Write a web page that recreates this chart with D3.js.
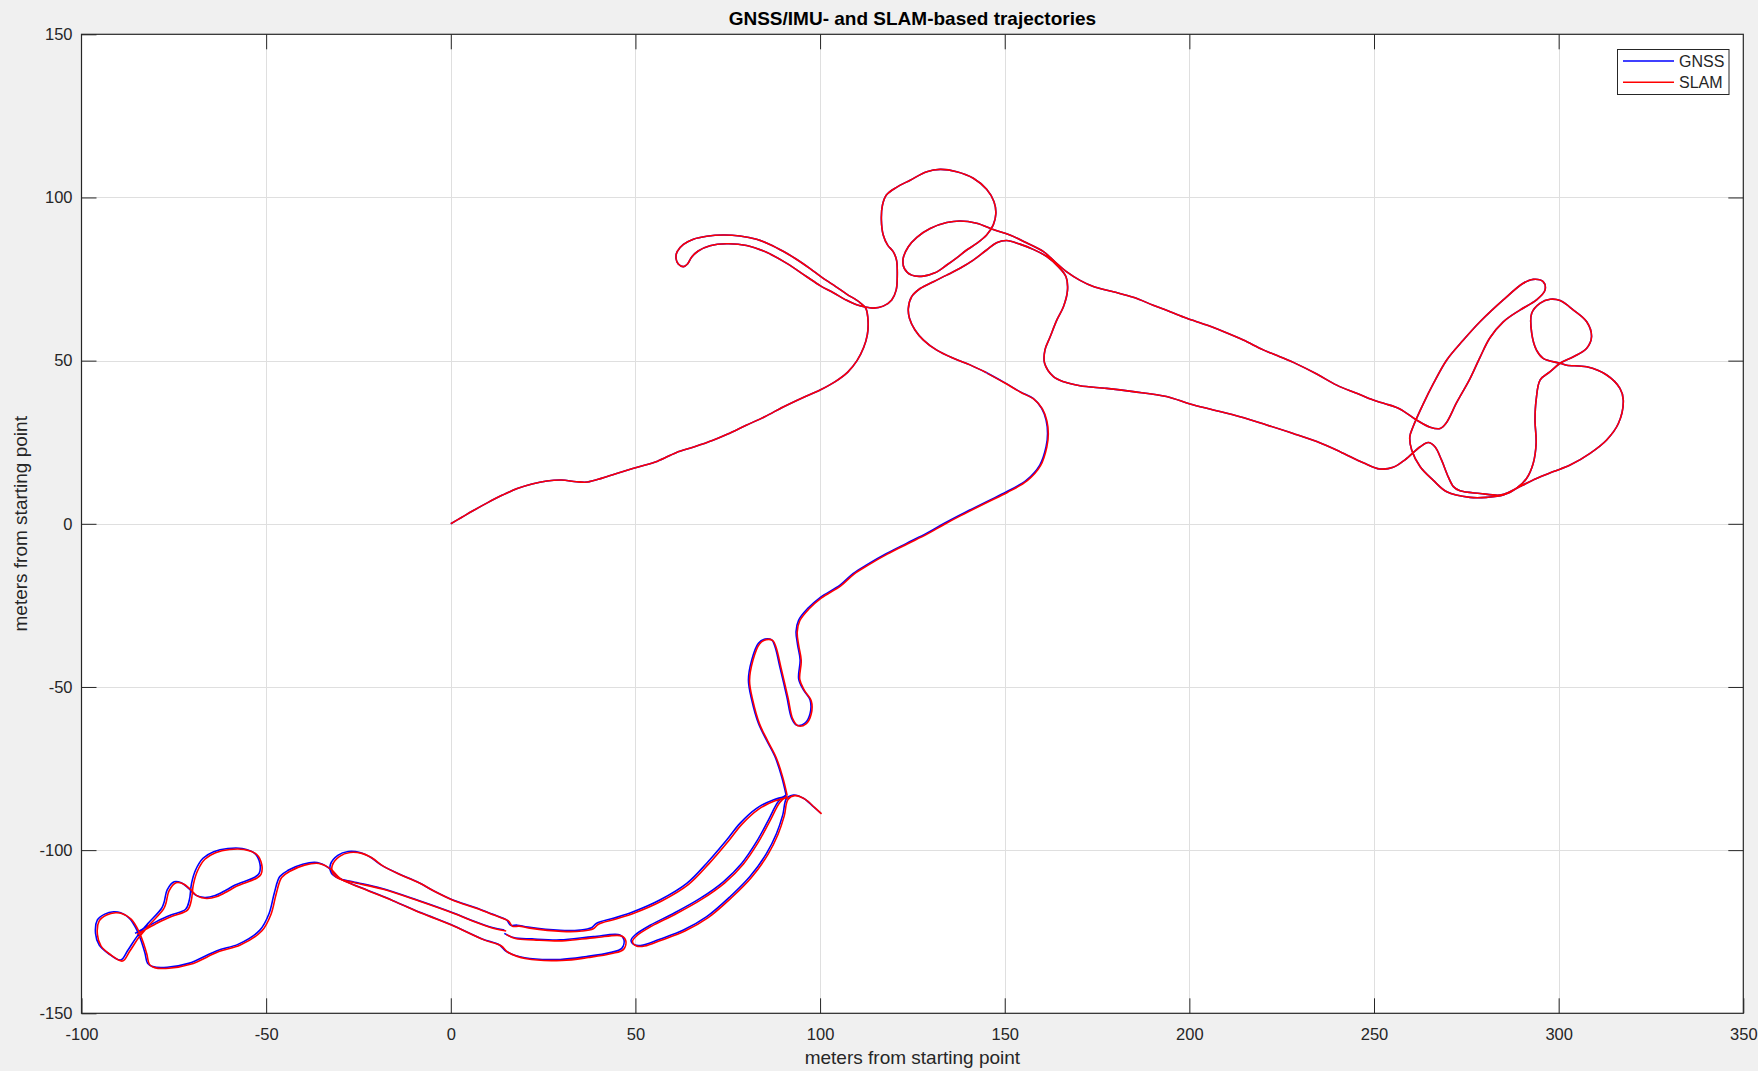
<!DOCTYPE html>
<html><head><meta charset="utf-8">
<script src="https://cdn.jsdelivr.net/npm/d3@7"></script>
<style>
body{margin:0;background:#f0f0f0;}
svg{display:block;font-family:"Liberation Sans",Arial,Helvetica,sans-serif;}
</style>
</head><body>
<svg id="chart" width="1758" height="1071"></svg>
<script>
const titleText = "GNSS/IMU- and SLAM-based trajectories";
const xLabelText = "meters from starting point";
const yLabelText = "meters from starting point";
const xTicks = [-100,-50,0,50,100,150,200,250,300,350];
const yTicks = [-150,-100,-50,0,50,100,150];
const seriesNames = ["GNSS","SLAM"];

// northern part of the route (both series coincide at this scale)
const northTrack = [[0,0],[3,2],[6,4],[10,6.5],[14,8.8],[18,10.8],[22,12.2],[26,13.1],[30,13.4],[34,12.9],[37,12.8],[41,14],[46,15.8],[51,17.5],[56,19.2],[61,21.8],[66,23.6],[71,25.6],[75,27.5],[80,30.2],[85,32.8],[90,35.8],[95,38.5],[100,41],[104,43.5],[107.5,46.5],[110,50],[111.8,54],[112.8,58],[113,62],[112.4,66],
[110.8,67.8],[107.2,70.4],[103.6,73.2],[100.4,75.6],[97.3,78.2],[93.7,81],[90,83.5],[86.4,85.6],[82.8,87.2],[78.3,88.2],[73.8,88.5],[69.3,88.1],[65.7,87.2],[63,85.6],[61.3,83.4],[61,81.3],[61.6,79.6],[63,78.8],[64.1,79.6],[65.2,81.7],[67,83.6],[70.2,85.2],[74.7,85.8],[80.1,85.3],[85.5,83.2],[91,79.8],[96.4,75.7],[100,73],[103.6,70.8],[107.2,68.5],[109.9,67.1],[111.9,66.5],[114.4,66.1],[117.1,66.7],[119.4,68.6],[120.6,71.6],[120.9,75.7],[120.7,80.8],[119.8,83.4],[118.3,85.4],[117.1,88.5],[116.6,93.1],[116.9,97.7],[118,100.8],[120.7,103.1],[124.4,105.3],[128.9,107.9],[132.5,108.6],[137,107.9],[141.5,105.9],[145.1,102.5],[147.1,98.7],[147.6,95.1],[146.9,91.6],[145.1,88.5],[142.4,85.9],[139.7,83.9],[137,81.5],[134.3,79.3],[131.1,76.9],[128,75.9],[124.8,76.2],[122.8,78.3],[122.5,81.3],[123.9,84.9],[126.2,87.8],[129.8,90.5],[134.3,92.3],[137.9,92.8],[142.4,92.1],[146.9,90.2],[151.4,88.5],[155.9,86.1],[160.5,83.4],[163.6,80.3],[166.8,77.2],[170.4,74.6],[174,72.7],[179.4,71.1],[184.8,69.4],[190.2,67],[194.8,65],[199.3,63],[204.7,60.9],[209.2,58.9],[214.6,56.3],[220,53.3],[224.5,51.2],[229,49],[234.5,45.9],[239.9,42.5],[245.3,40],[249.8,37.9],[253,36.8],[257,35.2],[261.5,31.8],[265.2,29.6],[267.9,29.2],[269.5,30.8],[272.4,37.2],[276,44.5],[278.7,51],[281.4,57],[285,61.9],[289.5,65.5],[294,68.6],[296.3,71.6],[295.8,74.2],[293.1,74.9],[290.4,73.7],[285,68.6],[278.7,61.9],[274.2,56.3],[269.7,50.2],[266.1,43],[263.4,36.9],[260.6,29.8],[259.7,26.7],[260.2,22.6],[262.5,17.5],[266,13.4],[269.7,9.8],[276,8.1],[280.5,8.1],[285,8.8],[288.6,10.9],[291.3,13.9],[293.1,18.5],[293.9,24.7],[293.6,31.8],[293.9,37.9],[295,44.1],[297.7,46.6],[300.4,49.2],[304,51.2],[307.6,53.8],[308.9,57.3],[307.6,61.9],[304,65.5],[300.4,68.4],[297.7,68.8],[295,67.6],[292.7,64.5],[292.7,58.4],[294,53.2],[295.8,50.7],[300.4,49.2],[302.2,48.6],[307.6,48.1],[313,45.6],[316.6,41.5],[317.5,37.9],[316.2,30.8],[313,25.7],[308.5,21.6],[303.1,18],[298.6,16],[294,13.9],[289.5,11.4],[286.8,9.8],[284.1,8.8],[278.7,9.3],[273.3,10.1],[271.5,11.4],[270.1,14.4],[268.3,19.5],[266.5,23.6],[264.7,24.9],[262.5,23.6],[258.4,19.6],[255.2,17.3],[251.6,16.8],[247.1,18.7],[240.8,22.1],[234.5,25.2],[228.1,27.7],[220.9,30.3],[213.7,32.8],[206.5,34.9],[200.2,36.7],[193.8,39],[184.8,40.5],[177.6,41.5],[170.4,42.3],[166,43.5],[163.2,45.1],[160.8,49.2],[160.9,53.3],[162.3,57.3],[164.1,62.4],[165.9,66.5],[167,71.6],[166.6,75.7],[164.5,78.8],[161.4,81.9],[157.7,84.1],[154.1,85.7],[150.5,86.8],[147.8,86.1],[145.1,83.9],[141.5,80.8],[137.9,78.3],[134.3,76.2],[130.7,74.2],[127.1,72.1],[124.8,69.6],[123.9,66],[124.2,63],[125.7,59.4],[128,56.3],[131.6,53.2],[136.1,50.7],[140.6,48.7],[145.1,46.3]];

// descent towards the south
const gnssDescent = [[145.1,46.3],[149.6,43.5],[154.1,40.5],[157.7,38.4],[160,35.4],[161.2,31.8],[161.6,27.7],[161.2,23.6],[159.5,18],[155.9,13.4],[150.5,9.8],[145.1,6.8],[137.9,2.7],[133.4,0],[128.9,-2.9],[123.4,-6],[118,-9.1],[112.6,-12.6],[109,-15.2],[105.4,-18.8],[100,-22.6],[96.6,-26],[94.2,-29.5],[93.5,-33],[93.9,-37],[94.6,-41.7],[94.2,-47.5],[95.5,-50.9],[97.3,-54],[97.3,-58.1],[95.9,-61.1],[93.7,-61.7],[92.3,-59.6],[91,-53],[89.1,-43.8],[87.8,-37.7],[86.9,-35.6],[85.1,-35.3],[83.3,-36.6],[81.5,-41.7],[80.6,-47.9],[81.5,-54],[83.3,-61.1],[85.5,-66.3],[87.8,-71.4],[89.6,-77.5],[90.8,-83.1]];
const slamDescent = [[145.3,46.1],[149.8,43.3],[154.3,40.3],[157.9,38.2],[160.2,35.2],[161.4,31.6],[161.8,27.6],[161.4,23.5],[159.7,17.8],[156.1,13.2],[150.7,9.6],[145.3,6.6],[138.1,2.5],[133.6,-0.2],[129.1,-3.1],[123.6,-6.2],[118.2,-9.3],[112.8,-12.8],[109.2,-15.4],[105.6,-19],[100.3,-22.8],[96.9,-26.2],[94.5,-29.7],[93.8,-33.2],[94.2,-37.2],[94.9,-41.9],[94.5,-47.7],[95.8,-51.1],[97.6,-54.2],[97.6,-58.3],[96.2,-61.3],[94,-61.9],[92.6,-59.8],[91.3,-53.2],[89.4,-44],[88.1,-37.9],[87.2,-35.8],[85.4,-35.5],[83.6,-36.8],[81.8,-41.9],[80.9,-48.1],[81.8,-54.2],[83.6,-61.3],[85.8,-66.5],[88.1,-71.6],[89.9,-77.7],[91.1,-83.3]];

// elongated loop and end of the route
const gnssSouthA = [[90.8,-83.1],[88.7,-85.1],[86,-90.8],[82.8,-97.4],[78.8,-104],[73.8,-109.7],[67.5,-114.8],[60.3,-119.4],[54,-123],[49.9,-126],[48.8,-127.7],[49.9,-129.1],[52.1,-129.1],[56.6,-127.3],[63,-124.5],[69.3,-120.4],[75.6,-114.3],[81,-108.1],[85.5,-101],[88.2,-94.9],[89.9,-89.2],[90.9,-84.2],[92.8,-83.1],[95.5,-84.1],[98.2,-86.7],[100.2,-88.7]];
const slamSouthA = [[91.1,-83.4],[89.1,-85.4],[86.4,-91.1],[83.2,-97.7],[79.2,-104.3],[74.2,-110],[67.9,-115.1],[60.7,-119.7],[54.4,-123.3],[50.3,-126.3],[49.2,-128],[50.3,-129.4],[52.5,-129.4],[57,-127.6],[63.4,-124.8],[69.7,-120.7],[76,-114.6],[81.4,-108.4],[85.9,-101.3],[88.6,-95.2],[90.3,-89.5],[91.3,-84.5],[93.1,-83.3],[95.8,-84.3],[98.5,-86.9],[100.4,-88.9]];

// outer arc and the long thin loop
const gnssSouthB = [[90.9,-83.6],[87.3,-84.6],[82.8,-87.2],[78.3,-91.8],[74.7,-96.9],[69.3,-104],[63.9,-110.2],[56.6,-115.3],[49.4,-118.9],[44,-120.9],[39.5,-122.4],[38.1,-123.8],[35,-124.5],[29.6,-124.6],[20.9,-123.6],[18,-123],[16.2,-123],[15.1,-121.4],[11.2,-119.6],[6.4,-117.5],[0.56,-115.3],[-4.3,-112.7],[-9.1,-109.7],[-14,-107.3],[-18.8,-104.6],[-21.7,-102.2],[-24.6,-100.7],[-27.8,-100.4],[-30.6,-101.6],[-32.6,-104.4],[-32.3,-107.1],[-30.4,-108.6],[-26.5,-109.7],[-18.8,-111.7],[-9.1,-115.3],[0.56,-119.2],[5.4,-121.4],[11.2,-123.7],[14.5,-124.5]];
const slamSouthB = [[91.3,-83.9],[87.8,-84.9],[83.3,-87.5],[78.8,-92.1],[75.2,-97.2],[69.8,-104.3],[64.4,-110.5],[57.1,-115.6],[49.9,-119.2],[44.5,-121.2],[40,-122.7],[38.6,-124.1],[35.5,-124.8],[30.1,-124.9],[21.4,-123.9],[18.5,-123.3],[16.7,-123.3],[15.6,-121.7],[11.7,-119.9],[6.9,-117.8],[1.06,-115.6],[-3.8,-113],[-8.6,-110],[-13.5,-107.6],[-18.3,-104.9],[-21.2,-102.5],[-24.1,-101],[-27.3,-100.7],[-30.1,-101.9],[-32.1,-104.7],[-31.8,-107.4],[-29.9,-108.9],[-26,-110],[-18.3,-112],[-8.6,-115.6],[1.06,-119.5],[5.9,-121.7],[11.7,-124],[15,-124.8]];

// west loop, lower line, hump and the far-west loops
const gnssSouthC = [[14.5,-125.5],[17,-126.8],[22,-127.2],[29.6,-127.5],[38.6,-126.5],[45.8,-126],[46.9,-127.5],[46.3,-130.1],[43.1,-131.4],[36.8,-132.6],[29.6,-133.5],[20,-133],[15,-131],[13.1,-129],[8.5,-127.2],[0,-122.8],[-8,-119.2],[-15.8,-115.4],[-24,-111.6],[-30.2,-108.6],[-33,-105.5],[-36.2,-103.8],[-40.1,-104.3],[-43.9,-106.1],[-46.3,-108.1],[-47.8,-113.2],[-49.2,-119.4],[-51.7,-124.5],[-57.5,-128.8],[-63.3,-130.8],[-71,-134.7],[-76.8,-135.9],[-80.7,-135.7],[-82.1,-134.7],[-82.8,-131.6],[-83.6,-128.6],[-85,-124.5],[-87,-120.9],[-89.4,-119.2],[-91.3,-118.9],[-93.7,-119.6],[-95.7,-121.4],[-96.2,-125.5],[-95.2,-129.1],[-92.8,-131.6],[-89.4,-133.7],[-87.4,-130.6],[-85,-126.5],[-82.1,-122.6],[-78.3,-117.8],[-77.6,-115.8],[-76.8,-112.2],[-74.9,-109.7],[-73,-110],[-71,-111.7],[-69.1,-113.8],[-66.6,-114.5],[-63.8,-113.9],[-60.8,-112.2],[-58.4,-110.7],[-53.1,-108.3],[-51.9,-107.1],[-51.7,-104.1],[-53.1,-101],[-56.5,-99.5],[-60.4,-99.5],[-64.2,-100.5],[-67.1,-102.5],[-69.1,-106.1],[-70.2,-110.2],[-70.8,-115.3],[-71.8,-118.1],[-75.8,-119.9],[-79.7,-121.9],[-83.6,-124.3],[-85.5,-125.5]];
const slamSouthC = [[15,-125.8],[17.5,-127.1],[22.5,-127.5],[30.1,-127.8],[39.1,-126.8],[46.3,-126.3],[47.4,-127.8],[46.8,-130.4],[43.6,-131.7],[37.3,-132.9],[30.1,-133.8],[20.5,-133.3],[15.5,-131.3],[13.6,-129.3],[9,-127.5],[0.5,-123.1],[-7.5,-119.5],[-15.3,-115.7],[-23.5,-111.9],[-29.7,-108.9],[-32.5,-105.8],[-35.7,-104.1],[-39.6,-104.6],[-43.4,-106.4],[-45.8,-108.4],[-47.3,-113.5],[-48.7,-119.7],[-51.2,-124.8],[-57,-129.1],[-62.8,-131.1],[-70.5,-135],[-76.3,-136.2],[-80.2,-136],[-81.6,-135],[-82.3,-131.9],[-83.1,-128.9],[-84.5,-124.8],[-86.5,-121.2],[-88.9,-119.5],[-90.8,-119.2],[-93.2,-119.9],[-95.2,-121.7],[-95.7,-125.8],[-94.7,-129.4],[-92.3,-131.9],[-88.9,-134],[-86.9,-130.9],[-84.5,-126.8],[-81.6,-122.9],[-77.8,-118.1],[-77.1,-116.1],[-76.3,-112.5],[-74.4,-110],[-72.5,-110.3],[-70.5,-112],[-68.6,-114.1],[-66.1,-114.8],[-63.3,-114.2],[-60.3,-112.5],[-57.9,-111],[-52.6,-108.6],[-51.4,-107.4],[-51.2,-104.4],[-52.6,-101.3],[-56,-99.8],[-59.9,-99.8],[-63.7,-100.8],[-66.6,-102.8],[-68.6,-106.4],[-69.7,-110.5],[-70.3,-115.6],[-71.3,-118.4],[-75.3,-120.2],[-79.2,-122.2],[-83.1,-124.6],[-85,-125.8]];

const W = 1758, H = 1071;
const plot = {left: 81.5, right: 1743.3, top: 34.3, bottom: 1013.3};
const svg = d3.select("#chart");
svg.append("rect").attr("width", W).attr("height", H).attr("fill", "#f0f0f0");
svg.append("rect").attr("x", plot.left).attr("y", plot.top)
  .attr("width", plot.right - plot.left).attr("height", plot.bottom - plot.top).attr("fill", "#fff");

const x = d3.scaleLinear().domain([-100, 350]).range([plot.left, plot.right]);
const y = d3.scaleLinear().domain([-150, 150]).range([plot.bottom, plot.top]);

const grid = svg.append("g");
grid.selectAll(".gx").data(xTicks.slice(1, -1)).join("line")
  .attr("x1", d => Math.round(x(d)) + 0.5).attr("x2", d => Math.round(x(d)) + 0.5)
  .attr("y1", plot.top).attr("y2", plot.bottom).attr("stroke", "#dfdfdf").attr("stroke-width", 1);
grid.selectAll(".gy").data(yTicks.slice(1, -1)).join("line")
  .attr("y1", d => Math.round(y(d)) + 0.5).attr("y2", d => Math.round(y(d)) + 0.5)
  .attr("x1", plot.left).attr("x2", plot.right).attr("stroke", "#dfdfdf").attr("stroke-width", 1);

const line = d3.line().x(d => x(d[0])).y(d => y(d[1])).curve(d3.curveCatmullRom.alpha(0.5));
svg.append("clipPath").attr("id", "clipP").append("rect")
  .attr("x", plot.left).attr("y", plot.top).attr("width", plot.right - plot.left).attr("height", plot.bottom - plot.top);
const dataG = svg.append("g").attr("clip-path", "url(#clipP)");
const gnssSegs = [northTrack, gnssDescent, gnssSouthA, gnssSouthB, gnssSouthC];
const slamSegs = [northTrack, slamDescent, slamSouthA, slamSouthB, slamSouthC];
dataG.selectAll(".gnss").data(gnssSegs).join("path").attr("class", "gnss").attr("d", line)
  .attr("fill", "none").attr("stroke", "#0000ff").attr("stroke-width", 1.6).attr("stroke-linejoin", "round");
dataG.selectAll(".slam").data(slamSegs).join("path").attr("class", "slam").attr("d", line)
  .attr("fill", "none").attr("stroke", "#ff0000").attr("stroke-width", 1.6).attr("stroke-linejoin", "round");

const axisColor = "#262626";
function styleAxis(g, showLabels) {
  g.select(".domain").remove();
  g.selectAll(".tick line").attr("stroke", axisColor).attr("stroke-width", 1);
  g.selectAll(".tick text").attr("fill", axisColor).style("font-size", "16.5px")
    .style("font-family", '"Liberation Sans",Arial,sans-serif');
  if (!showLabels) g.selectAll(".tick text").remove();
}
svg.append("g").attr("transform", `translate(0,${plot.bottom})`)
  .call(d3.axisBottom(x).tickValues(xTicks).tickSizeInner(-15).tickSizeOuter(0).tickPadding(15).tickFormat(d3.format("d")))
  .call(g => styleAxis(g, true));
svg.append("g").attr("transform", `translate(0,${plot.top})`)
  .call(d3.axisTop(x).tickValues(xTicks.slice(1, -1)).tickSizeInner(-15).tickSizeOuter(0))
  .call(g => styleAxis(g, false));
svg.append("g").attr("transform", `translate(${plot.left},0)`)
  .call(d3.axisLeft(y).tickValues(yTicks).tickSizeInner(-15).tickSizeOuter(0).tickPadding(9).tickFormat(d3.format("d")))
  .call(g => styleAxis(g, true));
svg.append("g").attr("transform", `translate(${plot.right},0)`)
  .call(d3.axisRight(y).tickValues(yTicks.slice(1, -1)).tickSizeInner(-15).tickSizeOuter(0))
  .call(g => styleAxis(g, false));
svg.selectAll(".tick text").text(function(){ return this.textContent.replace("\u2212", "-"); });

svg.append("rect").attr("x", plot.left).attr("y", plot.top)
  .attr("width", plot.right - plot.left).attr("height", plot.bottom - plot.top)
  .attr("fill", "none").attr("stroke", axisColor).attr("stroke-width", 1.2);

svg.append("text").attr("x", (plot.left + plot.right) / 2).attr("y", 24.5).attr("text-anchor", "middle")
  .attr("fill", "#000").style("font-size", "19px").style("font-weight", "bold").text(titleText);
svg.append("text").attr("x", (plot.left + plot.right) / 2).attr("y", 1063.5).attr("text-anchor", "middle")
  .attr("fill", axisColor).style("font-size", "19px").text(xLabelText);
svg.append("text").attr("transform", `translate(27,${(plot.top + plot.bottom) / 2}) rotate(-90)`)
  .attr("text-anchor", "middle").attr("fill", axisColor).style("font-size", "19px").text(yLabelText);

const lg = svg.append("g");
lg.append("rect").attr("x", 1617.5).attr("y", 49.5).attr("width", 111.5).attr("height", 45)
  .attr("fill", "#fff").attr("stroke", axisColor).attr("stroke-width", 1);
const legendColors = ["#0000ff", "#ff0000"];
seriesNames.forEach((name, i) => {
  const yy = 61 + i * 21.3;
  lg.append("line").attr("x1", 1623).attr("x2", 1674).attr("y1", yy).attr("y2", yy)
    .attr("stroke", legendColors[i]).attr("stroke-width", 1.6);
  lg.append("text").attr("x", 1679).attr("y", yy).attr("dy", "0.35em").attr("fill", axisColor)
    .style("font-size", "16px").text(name);
});
</script>
</body></html>
